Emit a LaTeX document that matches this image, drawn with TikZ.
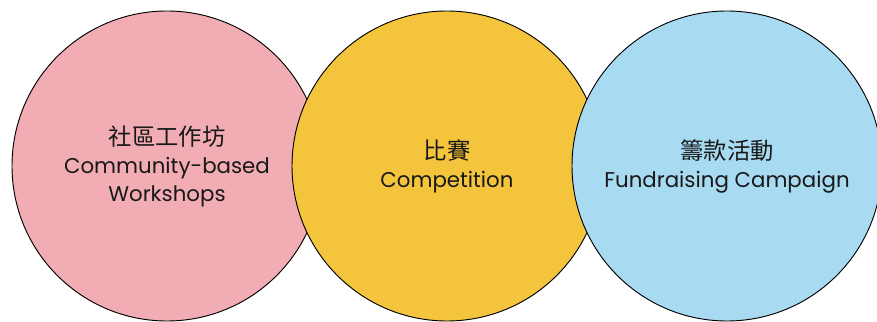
\documentclass[tikz,border=0pt]{standalone}
\usepackage{fontspec}
\setmainfont{Poppins}
\newfontfamily\cjk{Noto Sans CJK TC}
\definecolor{workpink}{HTML}{F2ACB3}
\definecolor{compyellow}{HTML}{F4C43C}
\definecolor{fundblue}{HTML}{A8DBF2}
\newcommand{\zh}[1]{{\cjk\fontsize{17.5}{21}\selectfont #1}}

\begin{document}
\begin{tikzpicture}[
  x=0.75pt, y=0.75pt,
  font=\fontsize{16}{21}\selectfont,
  area/.style={circle, draw=black, line width=0.7pt, minimum size=232.5pt, inner sep=0pt, align=center, text=black!90}
]
\useasboundingbox (0,0) rectangle (877,321);
\clip (0,0) rectangle (877,321);

% three activity areas, each one lying over the one on its left
\node[area, fill=workpink]   (work) at (167,155) {\zh{社區工作坊}\\Community-based\\Workshops};
\node[area, fill=compyellow] (comp) at (447,155) {\zh{比賽}\\Competition};
\node[area, fill=fundblue]   (fund) at (727,155) {\zh{籌款活動}\\Fundraising Campaign};
\end{tikzpicture}
\end{document}
